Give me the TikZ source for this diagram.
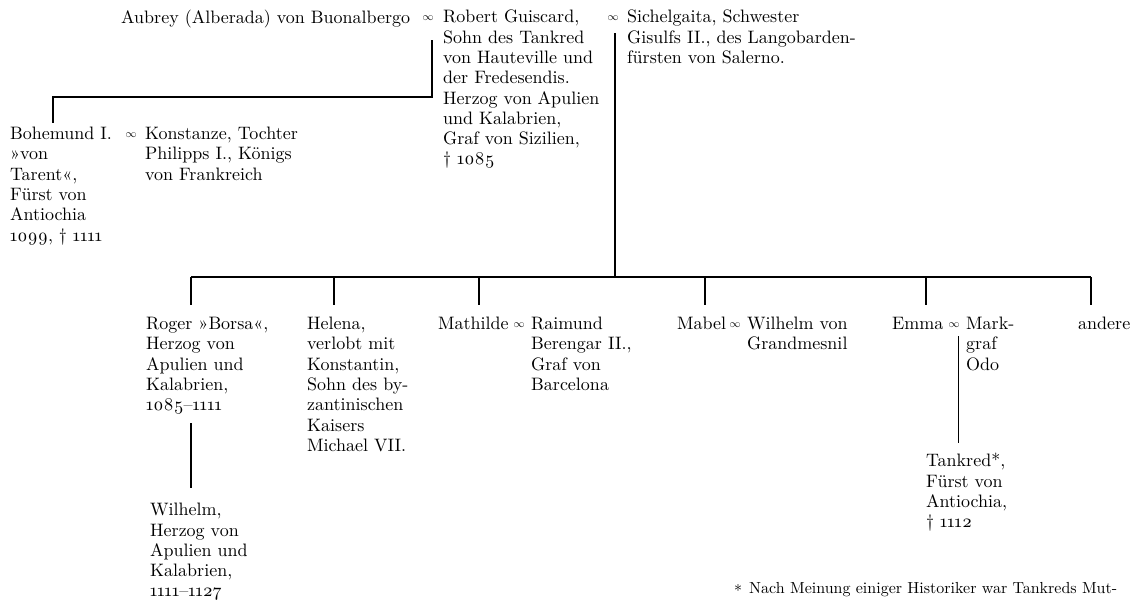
\documentclass[tikz,border=0pt]{standalone}
\usepackage{fontspec}
\setmainfont{lmroman10-regular.otf}[BoldFont=lmroman10-bold.otf,ItalicFont=lmroman10-italic.otf]
\begin{document}
\begin{tikzpicture}[x=1pt,y=-1pt,
  txt/.style={anchor=north west, inner sep=0pt, align=left, font=\fontsize{18}{20.3}\selectfont},
  note/.style={anchor=north west, inner sep=0pt, font=\fontsize{16}{18}\selectfont},
  mar/.style={inner sep=0pt, font=\fontsize{11}{11}\selectfont},
  ln/.style={line width=1.8pt},
  thin ln/.style={line width=1pt}]
\useasboundingbox[fill=white] (0,0) rectangle (1132,600);
% top generation
\node[txt] (aub) at (121,10) {Aubrey (Alberada) von Buonalbergo};
\node[mar] (inf1) at (428,18) {$\infty$};
\node[txt] (rob) at (443,10) {Robert Guiscard,\\Sohn des Tankred\\von Hauteville und\\der Fredesendis.\\Herzog von Apulien\\und Kalabrien,\\Graf von Sizilien,\\\dag\ \oldstylenums{1085}};
\node[mar] (inf2) at (613,18) {$\infty$};
\node[txt] (sic) at (627,10) {Sichelgaita, Schwester\\Gisulfs II., des Langobarden-\\fürsten von Salerno.};
% Bohemund
\node[txt] (boh) at (10,127) {Bohemund I.\\»von\\Tarent«,\\Fürst von\\Antiochia\\\oldstylenums{1099}, \dag\ \oldstylenums{1111}};
\node[mar] (inf3) at (131,135) {$\infty$};
\node[txt] (kon) at (145,127) {Konstanze, Tochter\\Philipps I., Königs\\von Frankreich};
% children
\node[txt] (rog) at (146,317) {Roger »Borsa«,\\Herzog von\\Apulien und\\Kalabrien,\\\oldstylenums{1085}--\oldstylenums{1111}};
\node[txt] (hel) at (307,317) {Helena,\\verlobt mit\\Konstantin,\\Sohn des by-\\zantinischen\\Kaisers\\Michael VII.};
\node[txt] (mat) at (438,317) {Mathilde};
\node[mar] (inf4) at (519,325) {$\infty$};
\node[txt] (rai) at (531,317) {Raimund\\Berengar II.,\\Graf von\\Barcelona};
\node[txt] (mab) at (677,317) {Mabel};
\node[mar] (inf5) at (735,325) {$\infty$};
\node[txt] (wvg) at (747,317) {Wilhelm von\\Grandmesnil};
\node[txt] (emm) at (892,317) {Emma};
\node[mar] (inf6) at (954,325) {$\infty$};
\node[txt] (odo) at (966,317) {Mark-\\graf\\Odo};
\node[txt] (and) at (1078,317) {andere};
% grandchildren
\node[txt] (wil) at (150,503) {Wilhelm,\\Herzog von\\Apulien und\\Kalabrien,\\\oldstylenums{1111}--\oldstylenums{1127}};
\node[txt] (tan) at (926,453) {Tankred*,\\Fürst von\\Antiochia,\\\dag\ \oldstylenums{1112}};
% footnote
\node[note] (fst) at (734,584) {*};
\node[note] (foot) at (749,582) {Nach Meinung einiger Historiker war Tankreds Mut-};
% connectors
\coordinate (m1) at (432,40);
\coordinate (b1) at (53,97);
\coordinate (m2) at (615,33);
\coordinate (bus) at (615,277);
\draw[ln] (m1) |- (b1) -- (53,123);
\draw[ln] (m2) -- (bus);
\draw[ln] (191,277) -- (1091,277);
\foreach \xx in {191,334,479,705,926,1091}
  \draw[ln] (\xx,277) -- (\xx,305);
\draw[ln] (191,423) -- (191,488);
\draw[thin ln] (958,336) -- (958,443);
\end{tikzpicture}
\end{document}
